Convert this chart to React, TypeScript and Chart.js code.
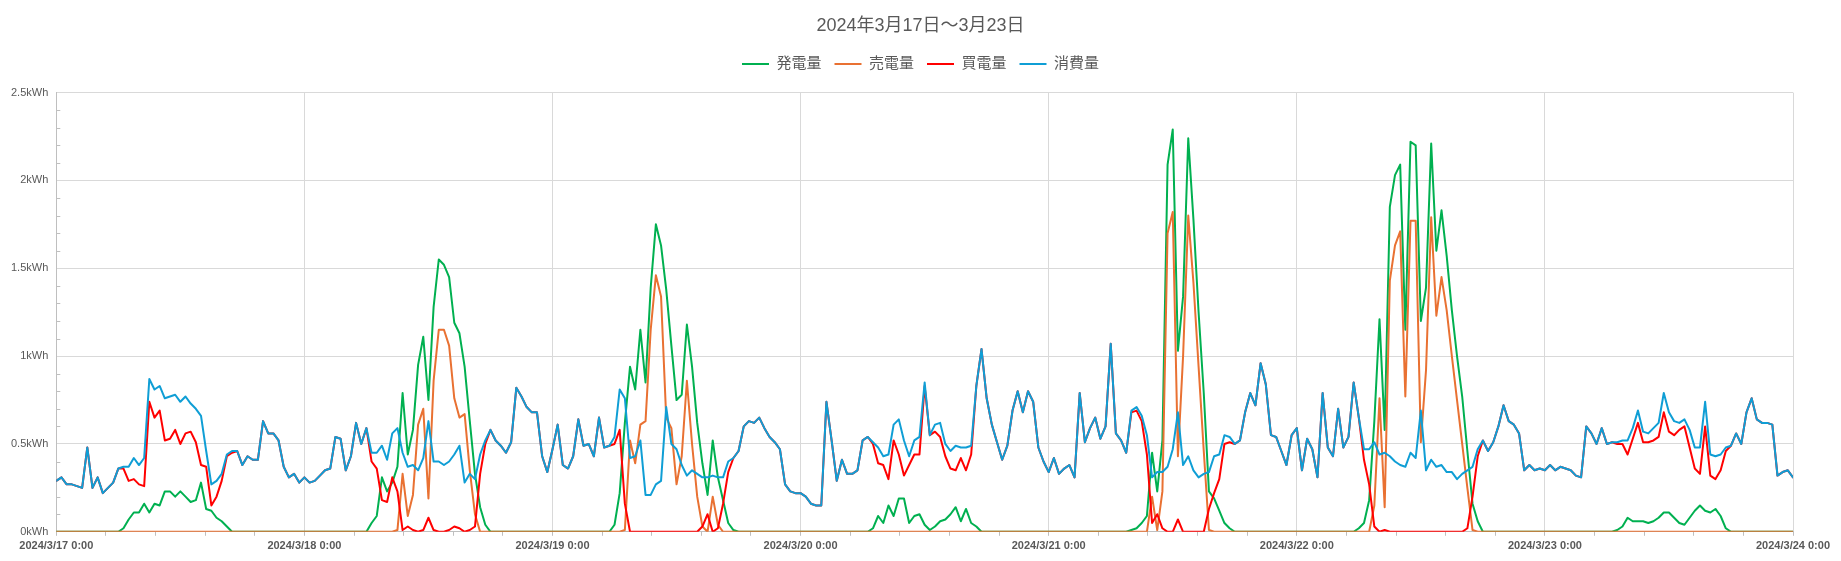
import { useEffect, useRef } from 'react';
import { Chart, registerables, type Plugin } from 'chart.js';

Chart.register(...registerables);

const FONT = "'Liberation Sans', 'Noto Sans CJK JP', sans-serif";
const TEXT = '#595959';

const chartTitle = '2024年3月17日～3月23日';
const seriesNames = ['発電量', '売電量', '買電量', '消費量'];
const seriesColors = ['#00b050', '#e97132', '#ff0000', '#0f9ed5'];
const xTickLabels = [
  '2024/3/17 0:00', '2024/3/18 0:00', '2024/3/19 0:00', '2024/3/20 0:00',
  '2024/3/21 0:00', '2024/3/22 0:00', '2024/3/23 0:00', '2024/3/24 0:00',
];
const yTickLabels = ['0kWh', '0.5kWh', '1kWh', '1.5kWh', '2kWh', '2.5kWh'];

// 30 min readings in kWh, 3/17 0:00 .. 3/24 0:00, one line per day
const generated = [
  0,0,0,0,0,0,0,0,0,0,0,0,0,0.02,0.07,0.11,0.11,0.16,0.11,0.16,0.15,0.23,0.23,0.20,0.23,0.20,0.17,0.18,0.28,0.13,0.12,0.08,0.06,0.03,0,0,0,0,0,0,0,0,0,0,0,0,0,0,
  0,0,0,0,0,0,0,0,0,0,0,0,0,0.05,0.09,0.31,0.23,0.28,0.37,0.79,0.44,0.58,0.95,1.11,0.75,1.28,1.55,1.52,1.45,1.19,1.13,0.94,0.63,0.33,0.14,0.04,0,0,0,0,0,0,0,0,0,0,0,0,
  0,0,0,0,0,0,0,0,0,0,0,0,0.04,0.22,0.62,0.94,0.81,1.15,0.85,1.39,1.75,1.63,1.38,1.06,0.75,0.78,1.18,0.94,0.62,0.39,0.21,0.52,0.31,0.18,0.05,0.01,0,0,0,0,0,0,0,0,0,0,0,0,
  0,0,0,0,0,0,0,0,0,0,0,0,0,0,0.02,0.09,0.05,0.15,0.09,0.19,0.19,0.05,0.09,0.10,0.04,0.01,0.03,0.06,0.07,0.10,0.14,0.06,0.13,0.05,0.03,0,0,0,0,0,0,0,0,0,0,0,0,0,
  0,0,0,0,0,0,0,0,0,0,0,0,0,0,0,0,0.01,0.02,0.05,0.09,0.45,0.23,0.52,2.09,2.29,1.03,1.34,2.24,1.78,1.25,0.79,0.23,0.19,0.12,0.05,0.02,0,0,0,0,0,0,0,0,0,0,0,0,
  0,0,0,0,0,0,0,0,0,0,0,0,0.02,0.05,0.18,0.63,1.21,0.58,1.85,2.03,2.09,1.15,2.22,2.20,1.20,1.39,2.21,1.60,1.83,1.57,1.26,1.00,0.77,0.46,0.16,0.06,0,0,0,0,0,0,0,0,0,0,0,0,
  0,0,0,0,0,0,0,0,0,0,0,0,0,0,0.01,0.03,0.08,0.06,0.06,0.06,0.05,0.06,0.08,0.11,0.11,0.08,0.05,0.04,0.08,0.12,0.15,0.12,0.11,0.13,0.09,0.02,0,0,0,0,0,0,0,0,0,0,0,0,
  0,
];

const sold = [
  0,0,0,0,0,0,0,0,0,0,0,0,0,0,0,0,0,0,0,0,0,0,0,0,0,0,0,0,0,0,0,0,0,0,0,0,0,0,0,0,0,0,0,0,0,0,0,0,
  0,0,0,0,0,0,0,0,0,0,0,0,0,0,0,0,0,0,0.01,0.33,0.09,0.21,0.61,0.70,0.19,0.86,1.15,1.15,1.06,0.76,0.65,0.67,0.35,0.10,0,0,0,0,0,0,0,0,0,0,0,0,0,0,
  0,0,0,0,0,0,0,0,0,0,0,0,0,0,0.01,0.52,0.39,0.61,0.63,1.15,1.46,1.34,0.65,0.59,0.27,0.43,0.86,0.50,0.20,0.03,0,0.20,0.04,0,0,0,0,0,0,0,0,0,0,0,0,0,0,0,
  0,0,0,0,0,0,0,0,0,0,0,0,0,0,0,0,0,0,0,0,0,0,0,0,0,0,0,0,0,0,0,0,0,0,0,0,0,0,0,0,0,0,0,0,0,0,0,0,
  0,0,0,0,0,0,0,0,0,0,0,0,0,0,0,0,0,0,0,0,0.20,0.01,0.23,1.70,1.82,0.43,1.00,1.80,1.42,0.94,0.46,0.01,0,0,0,0,0,0,0,0,0,0,0,0,0,0,0,0,
  0,0,0,0,0,0,0,0,0,0,0,0,0,0,0,0.15,0.76,0.14,1.43,1.63,1.71,0.77,1.77,1.77,0.51,0.92,1.79,1.23,1.45,1.26,1.00,0.75,0.50,0.25,0.01,0,0,0,0,0,0,0,0,0,0,0,0,0,
  0,0,0,0,0,0,0,0,0,0,0,0,0,0,0,0,0,0,0,0,0,0,0,0,0,0,0,0,0,0,0,0,0,0,0,0,0,0,0,0,0,0,0,0,0,0,0,0,
  0,
];

const bought = [
  0.29,0.31,0.27,0.27,0.26,0.25,0.48,0.25,0.31,0.22,0.25,0.28,0.36,0.36,0.29,0.30,0.27,0.26,0.74,0.65,0.69,0.52,0.53,0.58,0.50,0.56,0.57,0.51,0.38,0.37,0.15,0.20,0.29,0.43,0.45,0.46,0.38,0.43,0.41,0.41,0.63,0.56,0.56,0.52,0.37,0.31,0.33,0.28,
  0.31,0.28,0.29,0.32,0.35,0.36,0.54,0.53,0.35,0.43,0.62,0.50,0.59,0.40,0.36,0.18,0.17,0.31,0.23,0.01,0.03,0.01,0,0.01,0.08,0.01,0,0,0.01,0.03,0.02,0,0.01,0.03,0.33,0.50,0.58,0.52,0.49,0.45,0.51,0.82,0.77,0.71,0.68,0.68,0.43,0.34,
  0.47,0.61,0.38,0.36,0.43,0.64,0.49,0.50,0.43,0.65,0.48,0.49,0.50,0.58,0.16,0,0,0,0,0,0,0,0,0,0,0,0,0,0,0.03,0.10,0,0.02,0.16,0.34,0.42,0.46,0.60,0.63,0.62,0.65,0.59,0.54,0.51,0.47,0.27,0.23,0.22,
  0.22,0.20,0.16,0.15,0.15,0.74,0.52,0.29,0.41,0.33,0.33,0.35,0.52,0.54,0.50,0.39,0.38,0.30,0.52,0.44,0.32,0.38,0.44,0.44,0.83,0.55,0.57,0.54,0.43,0.36,0.35,0.42,0.35,0.44,0.83,1.04,0.76,0.61,0.51,0.41,0.49,0.69,0.80,0.68,0.80,0.74,0.48,0.40,
  0.34,0.42,0.33,0.36,0.38,0.31,0.79,0.51,0.59,0.65,0.53,0.60,1.07,0.56,0.52,0.45,0.68,0.69,0.63,0.44,0.05,0.10,0.02,0,0,0.07,0,0,0,0,0,0.13,0.22,0.30,0.50,0.51,0.50,0.52,0.68,0.79,0.72,0.96,0.84,0.55,0.54,0.46,0.38,0.55,
  0.59,0.35,0.53,0.47,0.31,0.79,0.48,0.43,0.70,0.48,0.54,0.85,0.65,0.41,0.27,0.03,0,0.01,0,0,0,0,0,0,0,0,0,0,0,0,0,0,0,0.02,0.20,0.43,0.52,0.46,0.51,0.60,0.72,0.63,0.61,0.56,0.35,0.38,0.35,0.36,
  0.35,0.38,0.35,0.37,0.36,0.35,0.32,0.31,0.60,0.56,0.50,0.59,0.50,0.51,0.50,0.50,0.44,0.53,0.62,0.51,0.51,0.52,0.54,0.68,0.57,0.55,0.58,0.60,0.48,0.36,0.33,0.60,0.32,0.30,0.35,0.46,0.49,0.56,0.50,0.68,0.76,0.64,0.62,0.62,0.61,0.32,0.34,0.35,
  0.31,
];

const consumed = [
  0.29,0.31,0.27,0.27,0.26,0.25,0.48,0.25,0.31,0.22,0.25,0.28,0.36,0.37,0.37,0.42,0.38,0.42,0.87,0.81,0.83,0.76,0.77,0.78,0.74,0.77,0.73,0.70,0.66,0.46,0.27,0.29,0.33,0.44,0.46,0.46,0.38,0.43,0.41,0.41,0.63,0.56,0.56,0.52,0.37,0.31,0.33,0.28,
  0.31,0.28,0.29,0.32,0.35,0.36,0.54,0.53,0.35,0.43,0.62,0.50,0.59,0.45,0.45,0.49,0.41,0.56,0.59,0.45,0.37,0.38,0.35,0.42,0.63,0.40,0.40,0.38,0.40,0.44,0.49,0.28,0.33,0.30,0.44,0.52,0.58,0.52,0.49,0.45,0.51,0.82,0.77,0.71,0.68,0.68,0.43,0.34,
  0.47,0.61,0.38,0.36,0.43,0.64,0.49,0.50,0.43,0.65,0.48,0.49,0.54,0.81,0.76,0.42,0.43,0.52,0.21,0.21,0.27,0.29,0.71,0.50,0.47,0.38,0.32,0.35,0.33,0.31,0.31,0.32,0.31,0.31,0.40,0.42,0.46,0.60,0.63,0.62,0.65,0.59,0.54,0.51,0.47,0.27,0.23,0.22,
  0.22,0.20,0.16,0.15,0.15,0.74,0.52,0.29,0.41,0.33,0.33,0.35,0.52,0.54,0.51,0.48,0.43,0.44,0.61,0.64,0.52,0.43,0.52,0.54,0.85,0.55,0.61,0.62,0.50,0.46,0.49,0.48,0.48,0.49,0.83,1.04,0.76,0.61,0.51,0.41,0.49,0.69,0.80,0.68,0.80,0.74,0.48,0.40,
  0.34,0.42,0.33,0.36,0.38,0.31,0.79,0.51,0.59,0.65,0.53,0.60,1.07,0.56,0.52,0.45,0.69,0.71,0.66,0.55,0.31,0.34,0.34,0.37,0.47,0.68,0.38,0.43,0.35,0.31,0.33,0.34,0.43,0.44,0.55,0.54,0.50,0.52,0.68,0.79,0.72,0.96,0.84,0.55,0.54,0.46,0.38,0.55,
  0.59,0.35,0.53,0.47,0.31,0.79,0.48,0.43,0.70,0.48,0.54,0.85,0.65,0.47,0.47,0.51,0.44,0.45,0.43,0.40,0.38,0.37,0.45,0.42,0.69,0.35,0.41,0.37,0.38,0.34,0.34,0.30,0.33,0.35,0.37,0.47,0.52,0.46,0.51,0.60,0.72,0.63,0.61,0.56,0.35,0.38,0.35,0.36,
  0.35,0.38,0.35,0.37,0.36,0.35,0.32,0.31,0.60,0.56,0.50,0.59,0.50,0.51,0.51,0.52,0.52,0.59,0.69,0.57,0.56,0.59,0.62,0.79,0.68,0.63,0.62,0.64,0.58,0.48,0.48,0.74,0.44,0.43,0.44,0.48,0.49,0.56,0.50,0.68,0.76,0.64,0.62,0.62,0.61,0.32,0.34,0.35,
  0.31,
];

const series = [generated, sold, bought, consumed];
const SLOTS_PER_DAY = 48;

// small inward tick marks on the value axis, every 0.1kWh
const innerYTicks: Plugin = {
  id: 'innerYTicks',
  beforeDatasetsDraw(chart) {
    const { ctx, chartArea, scales } = chart;
    const y = scales.y;
    ctx.save();
    ctx.strokeStyle = '#bfbfbf';
    ctx.lineWidth = 1;
    for (let k = 1; k < 25; k++) {
      if (k % 5 === 0) continue;
      const py = Math.round(y.getPixelForValue(k / 10)) + 0.5;
      ctx.beginPath();
      ctx.moveTo(chartArea.left, py);
      ctx.lineTo(chartArea.left + 4, py);
      ctx.stroke();
    }
    ctx.restore();
  },
};

export default function App() {
  const canvasRef = useRef<HTMLCanvasElement>(null);

  useEffect(() => {
    if (!canvasRef.current) return;
    const chart = new Chart(canvasRef.current, {
      type: 'line',
      data: {
        datasets: series.map((values, s) => ({
          label: seriesNames[s],
          data: values.map((v, i) => ({ x: i / SLOTS_PER_DAY, y: v })),
          borderColor: seriesColors[s],
          backgroundColor: seriesColors[s],
          borderWidth: 2,
          pointRadius: 0,
          pointHoverRadius: 0,
          tension: 0,
          fill: false,
          borderJoinStyle: 'round' as const,
          borderCapStyle: 'round' as const,
          order: 4 - s,
        })),
      },
      options: {
        animation: false,
        responsive: true,
        maintainAspectRatio: false,
        events: [],
        layout: { padding: { left: 3, right: 3, bottom: 4, top: 0 } },
        scales: {
          x: {
            type: 'linear',
            min: 0,
            max: 7,
            afterBuildTicks: (scale) => {
              scale.ticks = Array.from({ length: 36 }, (_, k) => ({ value: k / 5 }));
            },
            // keep a wider gap on the right, like the original
            afterFit: (scale) => {
              scale.paddingRight = 48;
            },
            ticks: {
              autoSkip: false,
              maxRotation: 0,
              padding: 4,
              color: TEXT,
              font: { family: FONT, size: 11, weight: 'bold' },
              callback: (_v, i) => (i % 5 === 0 ? xTickLabels[i / 5] : ''),
            },
            grid: {
              color: (c) => (c.index % 5 === 0 ? '#d9d9d9' : 'rgba(0,0,0,0)'),
              tickColor: '#bfbfbf',
              tickLength: 4,
            },
            border: { color: '#bfbfbf' },
          },
          y: {
            min: 0,
            max: 2.5,
            ticks: {
              stepSize: 0.5,
              padding: 8,
              color: TEXT,
              font: { family: FONT, size: 11 },
              callback: (_v, i) => yTickLabels[i],
            },
            grid: { color: '#d9d9d9', drawTicks: false },
            border: { color: '#bfbfbf' },
          },
        },
        plugins: {
          title: {
            display: true,
            text: chartTitle,
            color: TEXT,
            font: { family: FONT, size: 18, weight: 'normal' },
            padding: { top: 15, bottom: 7 },
          },
          // empty spacer between legend and plot
          subtitle: {
            display: true,
            text: '',
            weight: 500,
            padding: 0,
            font: { size: 11, lineHeight: 1 },
          },
          legend: {
            position: 'top',
            labels: {
              usePointStyle: true,
              pointStyle: 'line',
              pointStyleWidth: 27,
              padding: 13,
              color: TEXT,
              font: { family: FONT, size: 15 },
              sort: (a, b) => (a.datasetIndex ?? 0) - (b.datasetIndex ?? 0),
            },
          },
          tooltip: { enabled: false },
        },
      },
      plugins: [innerYTicks],
    });
    return () => chart.destroy();
  }, []);

  return (
    <div style={{ position: 'fixed', left: 0, top: 0, width: 1841, height: 561, background: '#fff' }}>
      <canvas ref={canvasRef} />
    </div>
  );
}
